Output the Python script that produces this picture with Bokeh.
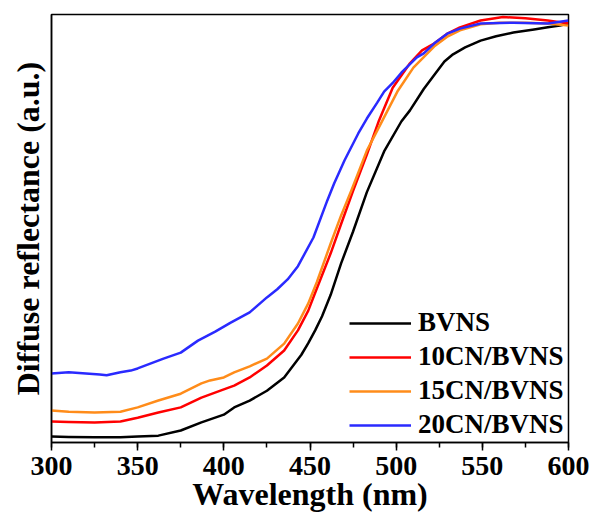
from bokeh.plotting import figure
from bokeh.models import Range1d, SingleIntervalTicker, FixedTicker, ColumnDataSource
from bokeh.embed import file_html
from bokeh.resources import INLINE

# Diffuse reflectance spectra (arbitrary units) vs wavelength (nm)
wl_bvns = [300, 310, 325, 340, 350, 362, 375, 387, 400, 406, 415, 425, 435, 445, 449,
           453, 457, 462, 468, 475, 483, 493, 503, 508, 516, 521, 528, 533, 540, 549,
           558, 568, 580, 588, 595, 600]
r_bvns = [0.014, 0.013, 0.012, 0.012, 0.014, 0.016, 0.028, 0.047, 0.065, 0.082, 0.098,
          0.121, 0.152, 0.205, 0.232, 0.262, 0.295, 0.345, 0.418, 0.493, 0.585, 0.680,
          0.750, 0.776, 0.826, 0.853, 0.890, 0.907, 0.923, 0.939, 0.949, 0.958, 0.965,
          0.970, 0.974, 0.979]

wl_10cn = [300, 310, 325, 340, 350, 362, 375, 387, 400, 406, 415, 425, 435, 443, 449,
           453, 462, 468, 475, 483, 490, 498, 508, 515, 522, 530, 537, 549, 562, 575,
           588, 600]
r_10cn = [0.049, 0.048, 0.047, 0.049, 0.058, 0.070, 0.082, 0.105, 0.124, 0.133, 0.152,
          0.180, 0.215, 0.262, 0.308, 0.350, 0.442, 0.510, 0.588, 0.673, 0.752, 0.829,
          0.886, 0.916, 0.932, 0.956, 0.970, 0.986, 0.994, 0.991, 0.986, 0.979]

wl_15cn = [300, 310, 325, 340, 350, 362, 375, 387, 392, 400, 406, 415, 425, 435, 443,
           449, 454, 462, 468, 474, 483, 492, 501, 510, 522, 530, 537, 549, 560, 575,
           588, 600]
r_15cn = [0.075, 0.072, 0.070, 0.072, 0.082, 0.098, 0.114, 0.138, 0.145, 0.152, 0.164,
          0.178, 0.196, 0.231, 0.278, 0.325, 0.375, 0.465, 0.530, 0.589, 0.682, 0.752,
          0.822, 0.876, 0.925, 0.949, 0.963, 0.977, 0.981, 0.981, 0.979, 0.974]

wl_20cn = [300, 310, 320, 328, 332, 340, 346, 350, 365, 375, 385, 395, 404, 415, 425,
           431, 437, 443, 452, 460, 464, 470, 478, 483, 489, 493, 498, 503, 512, 516,
           522, 530, 537, 549, 568, 588, 600]
r_20cn = [0.161, 0.164, 0.161, 0.159, 0.157, 0.164, 0.168, 0.173, 0.196, 0.210, 0.238,
          0.259, 0.280, 0.304, 0.339, 0.358, 0.381, 0.412, 0.479, 0.565, 0.605, 0.659,
          0.722, 0.757, 0.794, 0.820, 0.840, 0.864, 0.900, 0.909, 0.932, 0.956, 0.967,
          0.979, 0.981, 0.979, 0.986]

series = [
    ("BVNS", wl_bvns, r_bvns, "#000000"),
    ("10CN/BVNS", wl_10cn, r_10cn, "#FF0000"),
    ("15CN/BVNS", wl_15cn, r_15cn, "#FF8C1A"),
    ("20CN/BVNS", wl_20cn, r_20cn, "#2A2AFF"),
]

FONT = "Liberation Serif"

p = figure(width=595, height=515, output_backend="svg", toolbar_location=None,
           x_range=Range1d(300, 600), y_range=Range1d(0, 1),
           min_border_left=51, min_border_right=27, min_border_top=14,
           min_border_bottom=73)

for name, xs, ys, color in series:
    src = ColumnDataSource(dict(x=xs, y=ys))
    p.line("x", "y", source=src, line_color=color, line_width=2.5,
           line_join="round", legend_label=name)

p.xgrid.visible = False
p.ygrid.visible = False
p.outline_line_color = "black"
p.outline_line_width = 1.5
p.background_fill_color = "white"
p.border_fill_color = "white"

xa = p.xaxis[0]
xa.ticker = SingleIntervalTicker(interval=50, num_minor_ticks=2)
xa.axis_line_width = 1.5
xa.major_tick_line_width = 1.5
xa.minor_tick_line_width = 1.5
xa.major_tick_in = 0
xa.major_tick_out = 8
xa.minor_tick_in = 0
xa.minor_tick_out = 5
xa.major_label_text_font = FONT
xa.major_label_text_font_style = "bold"
xa.major_label_text_font_size = "28px"
xa.major_label_text_color = "black"
xa.major_label_standoff = 6
xa.axis_label = "Wavelength (nm)"
xa.axis_label_text_font = FONT
xa.axis_label_text_font_style = "bold"
xa.axis_label_text_font_size = "32px"
xa.axis_label_text_color = "black"
xa.axis_label_standoff = -2

ya = p.yaxis[0]
ya.ticker = FixedTicker(ticks=[])
ya.axis_line_width = 1.5
ya.major_tick_out = 0
ya.minor_tick_out = 0
ya.major_label_text_font_size = "0px"
ya.axis_label = "Diffuse reflectance (a.u.)"
ya.axis_label_text_font = FONT
ya.axis_label_text_font_style = "bold"
ya.axis_label_text_font_size = "32px"
ya.axis_label_text_color = "black"
ya.axis_label_standoff = 6

lg = p.legend[0]
lg.location = (298, 2)
lg.glyph_width = 62
lg.glyph_height = 24
lg.label_height = 24
lg.spacing = 3
lg.padding = 0
lg.margin = 0
lg.label_standoff = 7
lg.border_line_alpha = 0
lg.background_fill_alpha = 0
lg.label_text_font = FONT
lg.label_text_font_style = "bold"
lg.label_text_font_size = "27px"
lg.label_text_color = "black"

open("out.html", "w").write(file_html(p, INLINE))
